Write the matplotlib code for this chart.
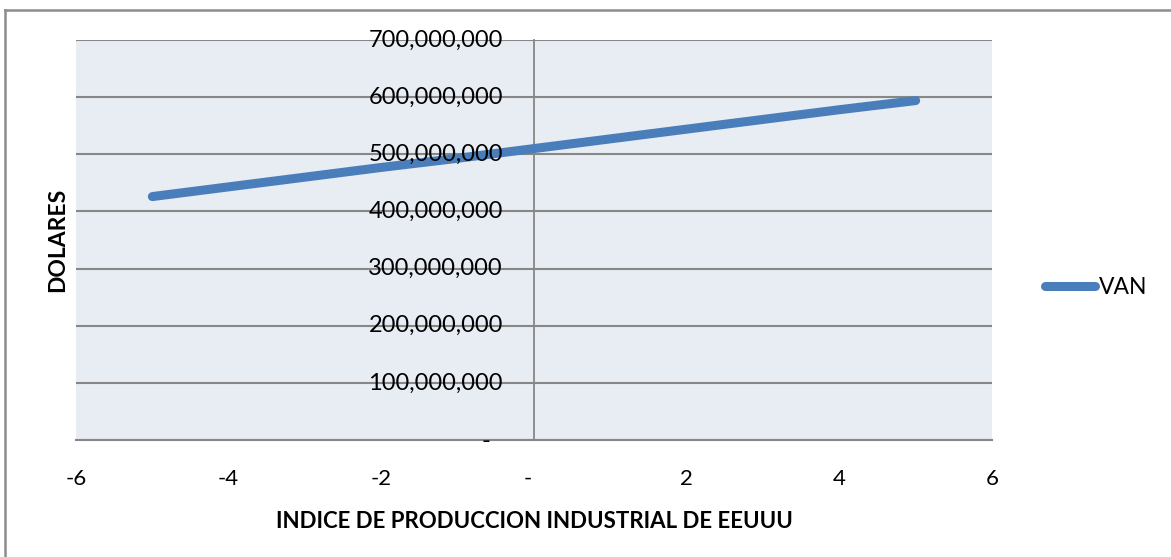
import matplotlib
matplotlib.use('Agg')
import matplotlib.pyplot as plt
from matplotlib.ticker import FuncFormatter
from matplotlib.lines import Line2D
from matplotlib.transforms import offset_copy

plt.rcParams['font.family'] = ['Lato', 'DejaVu Sans']

# datos
indice = [-5, -4, -3, -2, -1, 0, 1, 2, 3, 4, 5]
van = [426e6, 443e6, 460e6, 477e6, 493e6, 510e6, 527e6, 544e6, 561e6, 578e6, 594e6]
x_ticks = [-6, -4, -2, 0, 2, 4, 6]
y_ticks = [0, 100e6, 200e6, 300e6, 400e6, 500e6, 600e6, 700e6]

fig = plt.figure(figsize=(11.71, 5.57), dpi=100)
ax = fig.add_axes([76/1171, 117/557, 916/1171, 400/557])
ax.set_facecolor('#E8ECF3')

ax.plot(indice, van, color='#4A7EBB', lw=6.5, solid_capstyle='round', label='VAN', zorder=3)

ax.set_xlim(-6, 6)
ax.set_ylim(0, 700e6)
ax.set_xticks(x_ticks)
ax.set_yticks(y_ticks)
ax.set_yticklabels([])

def fmt_x(v, pos):
    if v == 0:
        return '-  '
    return '{:.0f}'.format(v)

ax.xaxis.set_major_formatter(FuncFormatter(fmt_x))

ax.grid(axis='y', color='#878787', lw=1.5)
ax.set_axisbelow(True)
for s in ['top', 'right']:
    ax.spines[s].set_visible(False)
ax.spines['left'].set_position(('data', 0))
ax.spines['left'].set_color('#878787')
ax.spines['left'].set_linewidth(1.3)
ax.spines['left'].set_zorder(2)
ax.spines['bottom'].set_color('#878787')
ax.spines['bottom'].set_linewidth(1.5)
ax.tick_params(axis='y', length=0)
ax.tick_params(axis='x', length=0, pad=21, labelsize=16)

# etiquetas del eje Y junto al eje vertical (encima de la linea)
tr = offset_copy(ax.transData, fig=fig, x=-31, y=0, units='dots')
for v in y_ticks:
    if v == 0:
        ax.text(0, v, '-', transform=offset_copy(ax.transData, fig=fig, x=-44, y=-2, units='dots'),
                ha='right', va='center', fontsize=17, zorder=5, clip_on=False)
    else:
        ax.text(0, v, '{:,.0f}'.format(v), transform=tr, ha='right', va='center',
                fontsize=17, zorder=5, clip_on=False)

fig.text(534/1171, 1 - 521/557, 'INDICE DE PRODUCCION INDUSTRIAL DE EEUUU',
         ha='center', va='center', fontsize=16, fontweight='bold')
fig.text(58/1171, 1 - 240/557, 'DOLARES', ha='center', va='center',
         rotation=90, fontsize=16.5, fontweight='bold')

ax.legend(loc='center left', bbox_to_anchor=(1045/1171, 1 - 288/557),
          bbox_transform=fig.transFigure, frameon=False, fontsize=16.5,
          handlelength=2.2, handletextpad=0.15, borderpad=0, borderaxespad=0)

# marco del grafico
fig.add_artist(Line2D([5/1171, 5/1171], [0, 547/557], color='#8c8c8c', lw=1.8))
fig.add_artist(Line2D([5/1171, 1], [547/557, 547/557], color='#8c8c8c', lw=1.8))

fig.savefig('out.png', dpi=100)
